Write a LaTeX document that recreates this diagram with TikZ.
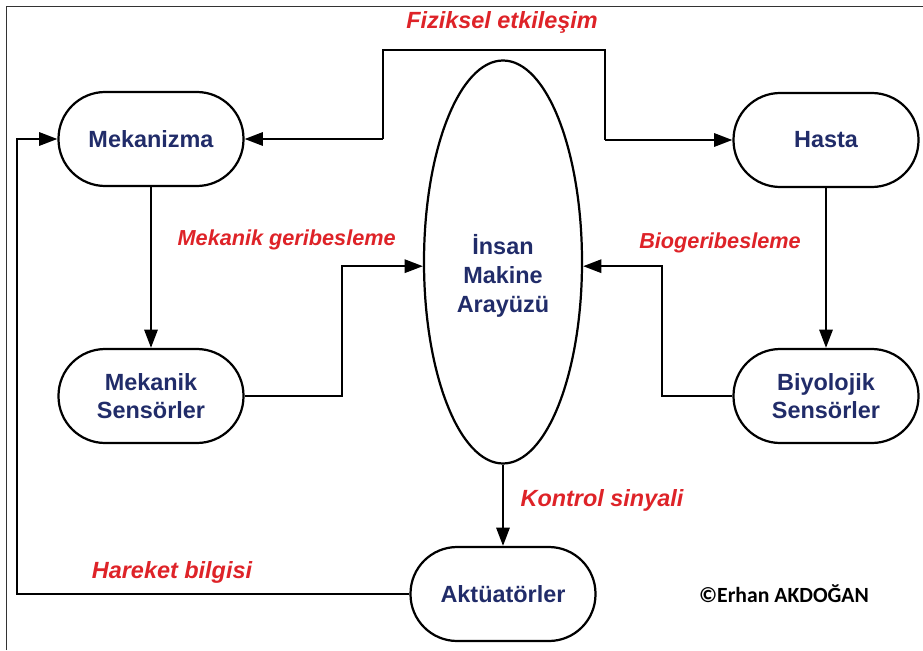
\documentclass[tikz,border=0pt]{standalone}
\usepackage{fontspec}
\setmainfont{Liberation Sans}
\newfontfamily\copyfont{Carlito}
\usepackage{xcolor}
\usetikzlibrary{positioning}
\usetikzlibrary{shapes.geometric,arrows.meta}

\definecolor{boxtext}{RGB}{33,44,105}
\definecolor{labelred}{RGB}{222,35,40}

\tikzset{
    block/.style={draw, line width=1.9pt, rounded corners=1.4cm, minimum width=5.55cm,
        minimum height=2.82cm, align=center, text=boxtext, font=\fontsize{20}{23.5}\selectfont\bfseries},
    hub/.style={draw, ellipse, line width=1.9pt, minimum width=4.74cm, minimum height=12.09cm},
    hubtext/.style={align=center, text=boxtext, font=\fontsize{20}{24.5}\selectfont\bfseries},
    signal/.style={text=labelred, font=\fontsize{20}{24}\selectfont\bfseries\itshape},
    smallsignal/.style={signal, font=\fontsize{18.5}{22}\selectfont\bfseries\itshape},
    wire/.style={line width=1.9pt, -{Triangle[length=0.55cm,width=0.4cm]}},
    plainwire/.style={line width=1.9pt}
}

\begin{document}
\begin{tikzpicture}
    \useasboundingbox (0,0) rectangle (27.69,19.5);
    \draw[line width=0.8pt, black!80] (0.18,0) -- (0.18,19.3) -- (27.69,19.3);

    \node[block] (mek) at (4.53,15.33) {Mekanizma};
    \node[block] (hasta) at (24.78,15.30) {Hasta};
    \node[block] (meksens) at (4.53,7.62) {Mekanik\\Sensörler};
    \node[block] (biosens) at (24.78,7.62) {Biyolojik\\Sensörler};
    \node[hub] (hmi) at (15.09,11.64) {};
    \node[hubtext] (hmitext) at ([yshift=-0.42cm]hmi.center) {İnsan\\Makine\\Arayüzü};
    \node[block] (akt) at (15.09,1.68) {Aktüatörler};

    \coordinate (busl) at (11.49,15.33);
    \coordinate (busr) at (18.15,15.30);
    \coordinate (left) at (0.51,1.68);
    \coordinate (hmiw) at (hmi.183);
    \coordinate (hmie) at (hmi.-3);

    % fiziksel etkilesim
    \draw[plainwire] (busl) -- (11.49,18.0) -- (18.15,18.0) -- (busr);
    \draw[wire] (busl) -- (mek.east);
    \draw[wire] (busr) -- (hasta.west);

    \draw[wire] (mek) -- (meksens);
    \draw[wire] (hasta) -- (biosens);

    % geribesleme
    \draw[wire] (meksens.east) -- (10.26,7.62) |- (hmiw);
    \draw[wire] (biosens.west) -- (19.86,7.62) |- (hmie);

    \draw[wire] (hmi.south) -- (akt.north);
    \draw[wire] (akt.west) -- (left) |- (mek.west);

    \node[signal] (fiz) at (15.06,18.84) {Fiziksel etkileşim};
    \node[smallsignal] (mgb) at (8.60,12.30) {Mekanik geribesleme};
    \node[smallsignal] (bgb) at (21.60,12.21) {Biogeribesleme};
    \node[signal] (kon) at (18.06,4.50) {Kontrol sinyali};
    \node[signal] (har) at (5.16,2.34) {Hareket bilgisi};
    \node[font=\copyfont\fontsize{18.5}{22}\selectfont\bfseries] (copy) at (23.52,1.68) {©Erhan AKDOĞAN};
\end{tikzpicture}
\end{document}
